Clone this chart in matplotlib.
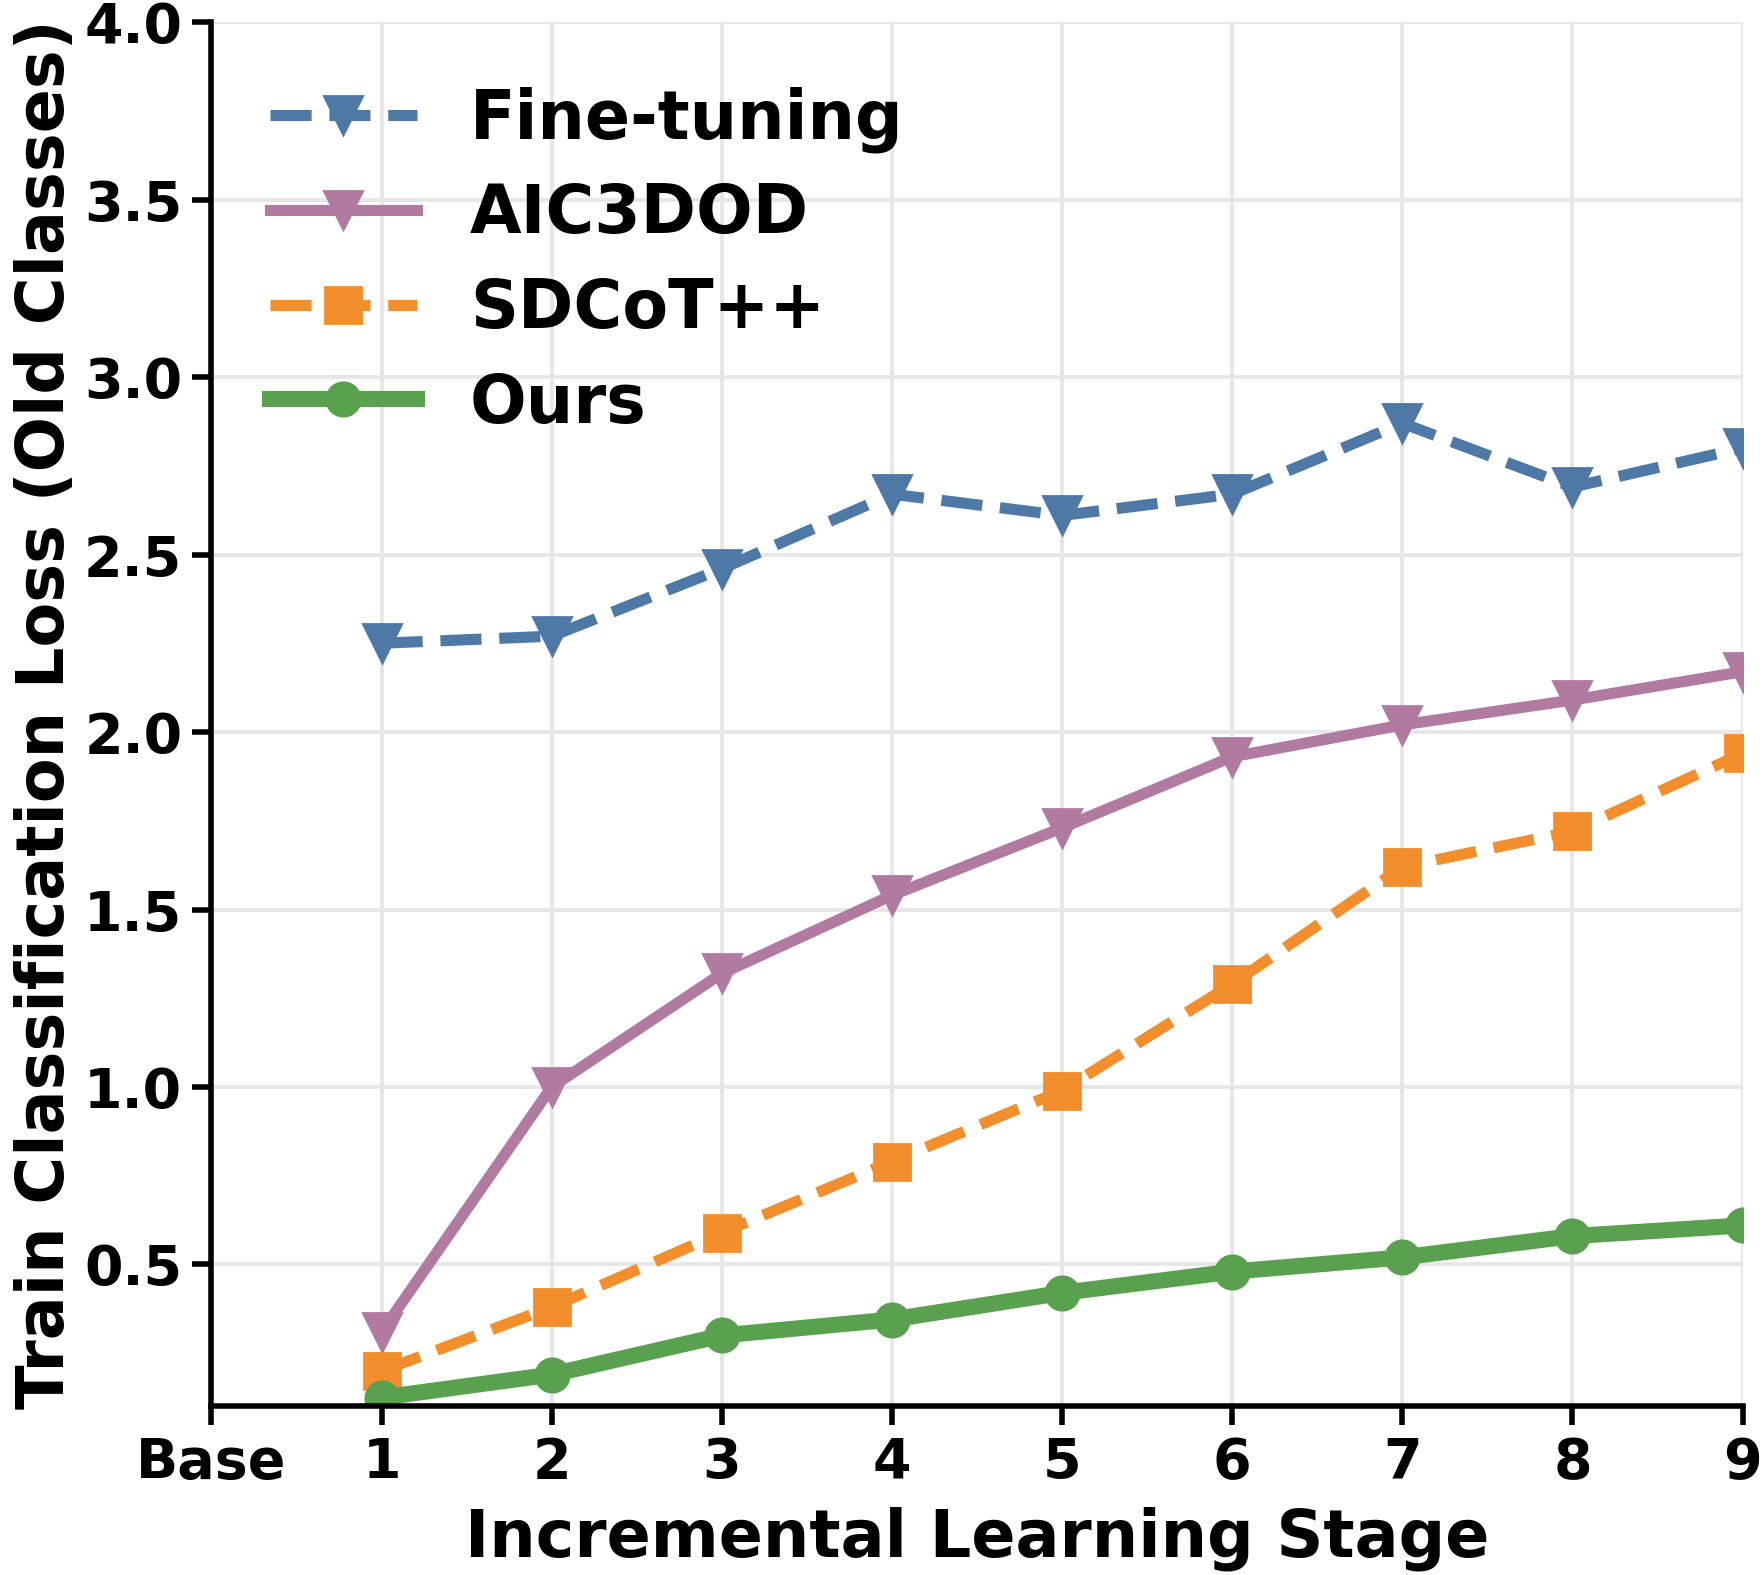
import matplotlib
matplotlib.use("Agg")
import matplotlib.pyplot as plt

stages = ["Base", "1", "2", "3", "4", "5", "6", "7", "8", "9"]
x_stage = [1, 2, 3, 4, 5, 6, 7, 8, 9]

fine_tuning = [2.25, 2.27, 2.46, 2.67, 2.61, 2.67, 2.87, 2.69, 2.80]
aic3dod = [0.31, 1.00, 1.32, 1.54, 1.73, 1.93, 2.02, 2.09, 2.17]
sdcot = [0.20, 0.38, 0.59, 0.79, 0.99, 1.29, 1.62, 1.72, 1.94]
ours = [0.125, 0.19, 0.30, 0.345, 0.42, 0.48, 0.52, 0.58, 0.61]

plt.rcParams['font.family'] = ['DejaVu Sans']
plt.rcParams['font.weight'] = 'bold'

fig = plt.figure(figsize=(8.81, 7.875), dpi=200)
ax = fig.add_axes([0.12, 0.107, 0.869, 0.879])

ax.plot(x_stage, fine_tuning, linestyle='--', marker='v', color='#4e79a7', lw=4, ms=14, label='Fine-tuning')
ax.plot(x_stage, aic3dod, linestyle='-', marker='v', color='#b07aa1', lw=4, ms=14, label='AIC3DOD')
ax.plot(x_stage, sdcot, linestyle='--', marker='s', color='#f28e2b', lw=4, ms=13, label='SDCoT++')
ax.plot(x_stage, ours, linestyle='-', marker='o', color='#59a14f', lw=5.8, ms=12, label='Ours')

ax.set_xlim(0, 9)
ax.set_ylim(0.1, 4.0)
ax.set_xticks(range(10))
ax.set_xticklabels(stages)
ax.set_yticks([0.5, 1.0, 1.5, 2.0, 2.5, 3.0, 3.5, 4.0])
ax.tick_params(labelsize=20, width=2, length=7)
for lab in ax.get_xticklabels() + ax.get_yticklabels():
    lab.set_fontweight('bold')

ax.grid(True, color='#e6e6e6', lw=1.4)
ax.set_axisbelow(True)
for s in ['top', 'right']:
    ax.spines[s].set_visible(False)
for s in ['left', 'bottom']:
    ax.spines[s].set_linewidth(2)

ax.set_xlabel('Incremental Learning Stage', fontsize=23.5, fontweight='bold', labelpad=6)
ax.set_ylabel('Train Classification Loss (Old Classes)', fontsize=23.5, fontweight='bold', labelpad=2)

ax.legend(loc='upper left', frameon=False, prop={'size': 24, 'weight': 'bold'},
          handlelength=2.2, labelspacing=0.43, bbox_to_anchor=(-0.001, 0.997))

fig.savefig('out.png', dpi=200)
